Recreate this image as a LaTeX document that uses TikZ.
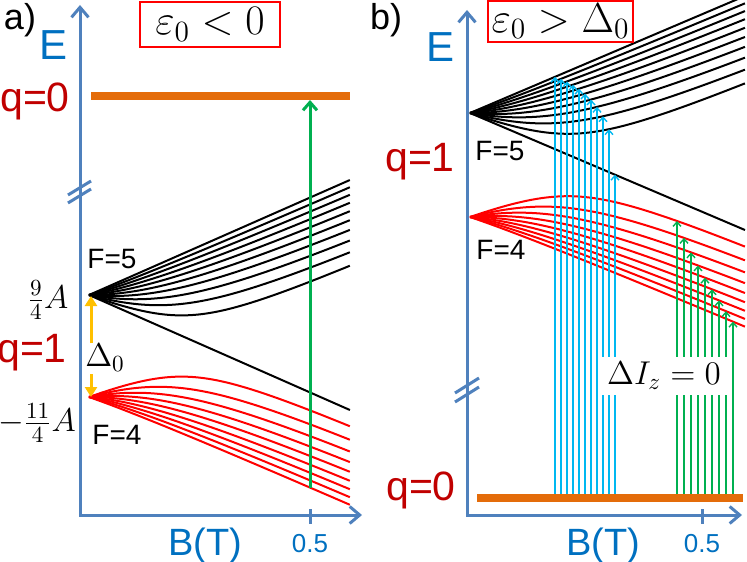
\RequirePackage{fix-cm}
\documentclass[tikz,border=0pt]{standalone}
\usepackage{fontspec}
\setsansfont{Liberation Sans}
\usetikzlibrary{arrows.meta}
\definecolor{axisblue}{HTML}{4F81BD}
\definecolor{labelblue}{HTML}{0070C0}
\definecolor{darkred}{HTML}{C00000}
\definecolor{levorange}{HTML}{E46C0A}
\definecolor{arrgreen}{HTML}{00B050}
\definecolor{arrcyan}{HTML}{00B8F0}
\definecolor{arryellow}{HTML}{FFC000}
\begin{document}
\begin{tikzpicture}[x=0.5pt,y=-0.5pt,
  axisline/.style={draw=axisblue,line width=1.5pt,line join=miter,
    {Straight Barb[length=5pt,width=8.5pt]}-{Straight Barb[length=5pt,width=8.5pt]}},
  brk/.style={draw=axisblue,line width=1.5pt},
  tick/.style={draw=axisblue,line width=1.5pt},
  lev5/.style={draw=black,line width=1pt},
  lev4/.style={draw=red,line width=1pt},
  qline/.style={draw=levorange,line width=4pt},
  bigarrow/.style={draw=arrgreen,line width=1.5pt,-{Straight Barb[length=4pt,width=7pt]}},
  thinarrow/.style={line width=0.7pt,-{Straight Barb[length=2.2pt,width=4pt]}},
  yarrow/.style={draw=arryellow,line width=1.5pt,-{Triangle[length=5pt,width=6pt]}},
  panel/.style={font=\sffamily\fontsize{18}{20}\selectfont,inner sep=0pt},
  elbl/.style={text=labelblue,font=\sffamily\fontsize{21}{24}\selectfont,inner sep=0pt},
  blbl/.style={text=labelblue,font=\sffamily\fontsize{19}{22}\selectfont,inner sep=0pt,anchor=base},
  ticklbl/.style={text=labelblue,font=\sffamily\fontsize{13}{15}\selectfont,inner sep=0pt,anchor=base},
  qlbl/.style={text=darkred,font=\sffamily\fontsize{20.5}{24}\selectfont,inner sep=0pt,anchor=base},
  flbl/.style={font=\sffamily\fontsize{14}{16}\selectfont,inner sep=0pt},
  mlbl/.style={font=\fontsize{16.5}{19}\selectfont,inner sep=0pt},
  condbox/.style={draw=red,line width=0.8pt,font=\fontsize{21}{25}\selectfont,inner sep=0pt}
]
\useasboundingbox (0,0) rectangle (747,561);

% ================= panel a =================
\begin{scope}
\clip (0,0) rectangle (747,561);
\foreach \m in {-4,...,5}{
  \draw[lev5] plot[domain=0:2.255,samples=60,smooth] ({89+115.7*\x},{346-51*sqrt(1+0.4*(\m)*\x+\x*\x)});
}
\draw[lev5] (89,295) -- ({89+115.7*2.255},{346-51*(1-2.255)});
\foreach \m in {-4,...,4}{
  \draw[lev4] plot[domain=0:2.255,samples=60,smooth] ({89+115.7*\x},{346+51*sqrt(1+0.4*(\m)*\x+\x*\x)});
}
\end{scope}

\draw[qline] (91,96) -- (350,96);
\pgfmathsetmacro\gta{(310-89)/115.7}
\pgfmathsetmacro\gya{346+51*sqrt(1+1.6*\gta+\gta*\gta)}
\coordinate (ga0) at (310,\gya);
\coordinate (ga1) at (310,100);
\draw[bigarrow] (ga0) -- (ga1);

\coordinate (ya0) at (91,343);
\coordinate (ya1) at (91,296);
\coordinate (yb0) at (91,374);
\coordinate (yb1) at (91,397);
\draw[yarrow] (ya0) -- (ya1);
\draw[yarrow] (yb0) -- (yb1);

\coordinate (axa) at (80,5);
\coordinate (oa) at (80,515);
\coordinate (axb) at (362,515);
\draw[axisline] (axa) -- (oa) -- (axb);
\draw[tick] (310,509) -- (310,524);
\draw[brk] (68,195) -- (91,181);
\draw[brk] (68,203) -- (91,189);

\node[panel] (pa) at (20,20) {a)};
\node[elbl] (ea) at (54,45) {E};
\node[condbox,minimum width=70pt,minimum height=22.5pt] (ca) at (210,24.5) {$\varepsilon_0<0$};
\node[qlbl] (q0a) at (35,112) {q=0};
\node[qlbl] (q1a) at (32,362) {q=1};
\node[mlbl] (fa) at (48,300) {$\frac{9}{4}A$};
\node[mlbl] (fb) at (37,423) {$-\frac{11}{4}A$};
\node[mlbl] (da) at (105,358) {$\Delta_0$};
\node[flbl] (f5a) at (112,259) {F=5};
\node[flbl] (f4a) at (117,435) {F=4};
\node[blbl] (bta) at (205,555) {B(T)};
\node[ticklbl] (ta) at (310,552) {0.5};

% ================= panel b =================
\begin{scope}
\clip (0,0) rectangle (747,561);
\foreach \m in {-4,...,5}{
  \draw[lev5] plot[domain=0:2.25,samples=60,smooth] ({470+122.2*\x},{165-52*sqrt(1+0.4*(\m)*\x+\x*\x)});
}
\draw[lev5] (470,113) -- ({470+122.2*2.25},{165-52*(1-2.25)});
\foreach \m in {-4,...,4}{
  \draw[lev4] plot[domain=0:2.25,samples=60,smooth] ({470+122.2*\x},{165+52*sqrt(1+0.4*(\m)*\x+\x*\x)});
}
\end{scope}

\foreach \k in {0,...,10}{
  \pgfmathsetmacro\cxv{555+6*\k}
  \pgfmathsetmacro\ctv{(\cxv-470)/122.2}
  \pgfmathsetmacro\cmv{5-\k}
  \pgfmathsetmacro\cyv{ifthenelse(\cmv<-4.5,165-52*(1-\ctv),165-52*sqrt(1+0.4*\cmv*\ctv+\ctv*\ctv))}
  \draw[thinarrow,draw=arrcyan] (\cxv,495) -- (\cxv,\cyv);
}
\foreach \k in {0,...,8}{
  \pgfmathsetmacro\gxv{677+7*\k}
  \pgfmathsetmacro\gtv{(\gxv-470)/122.2}
  \pgfmathsetmacro\gmv{-4+\k}
  \pgfmathsetmacro\gyv{165+52*sqrt(1+0.4*\gmv*\gtv+\gtv*\gtv)}
  \draw[thinarrow,draw=arrgreen] (\gxv,495) -- (\gxv,\gyv);
}
\draw[qline] (477,498) -- (743,498);

\node[mlbl,fill=white,minimum width=65.5pt,minimum height=19pt] (diz) at (664,376) {$\Delta I_z=0$};

\coordinate (bxa) at (467,10);
\coordinate (ob) at (467,515);
\coordinate (bxb) at (742,515);
\draw[axisline] (bxa) -- (ob) -- (bxb);
\draw[tick] (702,509) -- (702,524);
\draw[brk] (455,393) -- (479,378);
\draw[brk] (455,402) -- (479,387);

\node[panel] (pb) at (386,20) {b)};
\node[elbl] (eb) at (440,47) {E};
\node[condbox,minimum width=72.5pt,minimum height=20.5pt] (cb) at (560.5,21.5) {$\varepsilon_0>\Delta_0$};
\node[qlbl] (q1b) at (420,171) {q=1};
\node[qlbl] (q0b) at (421,500) {q=0};
\node[flbl] (f5b) at (500,151) {F=5};
\node[flbl] (f4b) at (501,250) {F=4};
\node[blbl] (btb) at (603,555) {B(T)};
\node[ticklbl] (tb) at (702,552) {0.5};
\end{tikzpicture}
\end{document}
